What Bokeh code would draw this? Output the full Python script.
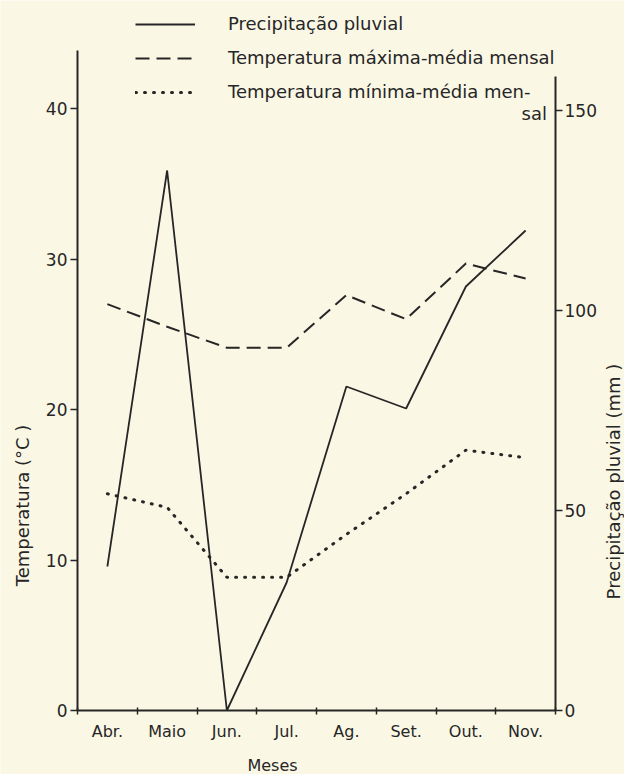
import numpy as np
from math import pi
from bokeh.plotting import figure
from bokeh.models import (Range1d, LinearAxis, FixedTicker, Legend, LegendItem, Label)
from bokeh.embed import file_html
from bokeh.resources import INLINE

# ---- data ----
months = ["Abr.", "Maio", "Jun.", "Jul.", "Ag.", "Set.", "Out.", "Nov."]
precip_mm = [36, 135, 0, 32, 81, 75.5, 106, 120]
tmax_c = [27.0, 25.5, 24.1, 24.1, 27.6, 26.0, 29.7, 28.7]
tmin_c = [14.4, 13.5, 8.85, 8.85, 11.7, 14.4, 17.3, 16.8]
temp_ticks = [0, 10, 20, 30, 40]
precip_ticks = [0, 50, 100, 150]

legend_labels = ["Precipitação pluvial",
                 "Temperatura máxima-média mensal",
                 "Temperatura mínima-média men-"]
legend_tail = "sal"
ylabel_left = "Temperatura (°C )"
ylabel_right = "Precipitação pluvial (mm )"
xlabel = "Meses"

x = np.arange(len(months)) + 0.5

BG = "#faf7e5"
INK = "#262626"
FONT = "DejaVu Sans"

W, H = 624, 774
# frame covers the whole canvas; axes sit at fixed data locations
PX_X = 59.75      # px per month
PX_T = 15.05      # px per degree C
PX_P = 4.0        # px per mm
X0, Y0 = 77, 710  # pixel position of the data origin

p = figure(width=W, height=H, output_backend="svg", toolbar_location=None,
           x_range=Range1d(-X0 / PX_X, len(months) + (W - X0 - len(months) * PX_X) / PX_X),
           y_range=Range1d(-(H - Y0) / PX_T, Y0 / PX_T))
p.min_border = 0
p.min_border_left = 0
p.min_border_right = 0
p.min_border_top = 0
p.min_border_bottom = 0
p.background_fill_color = BG
p.border_fill_color = BG
p.outline_line_color = None
p.xgrid.visible = False
p.ygrid.visible = False

p.extra_y_ranges = {"precip": Range1d(-(H - Y0) / PX_P, Y0 / PX_P)}

# lines
r_pr = p.line(x, precip_mm, y_range_name="precip", line_color=INK, line_width=1.8)
r_tx = p.line(x, tmax_c, line_color=INK, line_width=2, line_dash="14 7")
r_tn = p.line(x, tmin_c, line_color=INK, line_width=3, line_dash="1 8", line_cap="round")

# x axis: labels centred in months, ticks at month boundaries
xa = p.xaxis[0]
xa.fixed_location = 0
xa.bounds = (0, len(months))
xa.ticker = FixedTicker(ticks=list(x), minor_ticks=list(range(len(months) + 1)))
xa.major_label_overrides = {float(v): m for v, m in zip(x, months)}
xa.major_tick_in = 0
xa.major_tick_out = 0
xa.minor_tick_in = 3
xa.minor_tick_out = 4
xa.minor_tick_line_color = INK
xa.minor_tick_line_width = 1.5
xa.axis_line_color = INK
xa.axis_line_width = 2
xa.major_label_standoff = 7
xa.major_label_text_font = FONT
xa.major_label_text_font_size = "16px"
xa.major_label_text_color = INK

# left axis
ya = p.yaxis[0]
ya.fixed_location = 0
ya.bounds = (0, 43.85)
ya.ticker = FixedTicker(ticks=temp_ticks)
ya.minor_tick_line_color = None
ya.major_tick_in = 0
ya.major_tick_out = 7
ya.major_tick_line_color = INK
ya.major_tick_line_width = 1.5
ya.axis_line_color = INK
ya.axis_line_width = 2
ya.major_label_standoff = 3
ya.major_label_text_font = FONT
ya.major_label_text_font_size = "17px"
ya.major_label_text_color = INK

# right axis
ra = LinearAxis(y_range_name="precip", ticker=FixedTicker(ticks=precip_ticks),
                fixed_location=len(months), bounds=(0, 158.5))
ra.minor_tick_line_color = None
ra.major_tick_in = 0
ra.major_tick_out = 7
ra.major_tick_line_color = INK
ra.major_tick_line_width = 1.5
ra.axis_line_color = INK
ra.axis_line_width = 2
ra.major_label_standoff = 2
ra.major_label_text_font = FONT
ra.major_label_text_font_size = "17px"
ra.major_label_text_color = INK
p.add_layout(ra, "right")

# legend
legend = Legend(items=[LegendItem(label=legend_labels[0], renderers=[r_pr]),
                       LegendItem(label=legend_labels[1], renderers=[r_tx]),
                       LegendItem(label=legend_labels[2], renderers=[r_tn])],
                location=(135, 672), orientation="vertical",
                glyph_width=60, glyph_height=20, label_height=20,
                spacing=13, label_standoff=33, padding=0, margin=0,
                border_line_color=None, background_fill_alpha=0,
                label_text_font=FONT, label_text_font_size="18px",
                label_text_color=INK)
p.add_layout(legend, "center")

p.add_layout(Label(x=521, y=661, x_units="screen", y_units="screen",
                   text=legend_tail, text_font=FONT, text_font_size="18px",
                   text_color=INK, text_align="left", text_baseline="middle"))

# axis titles
p.add_layout(Label(x=22, y=269, x_units="screen", y_units="screen",
                   text=ylabel_left, angle=pi / 2, text_font=FONT,
                   text_font_size="18px", text_color=INK,
                   text_align="center", text_baseline="middle"))
p.add_layout(Label(x=613, y=293, x_units="screen", y_units="screen",
                   text=ylabel_right, angle=pi / 2, text_font=FONT,
                   text_font_size="18px", text_color=INK,
                   text_align="center", text_baseline="middle"))
p.add_layout(Label(x=272, y=9, x_units="screen", y_units="screen",
                   text=xlabel, text_font=FONT,
                   text_font_size="16px", text_color=INK,
                   text_align="center", text_baseline="middle"))

open("out.html", "w").write(file_html(p, INLINE))
